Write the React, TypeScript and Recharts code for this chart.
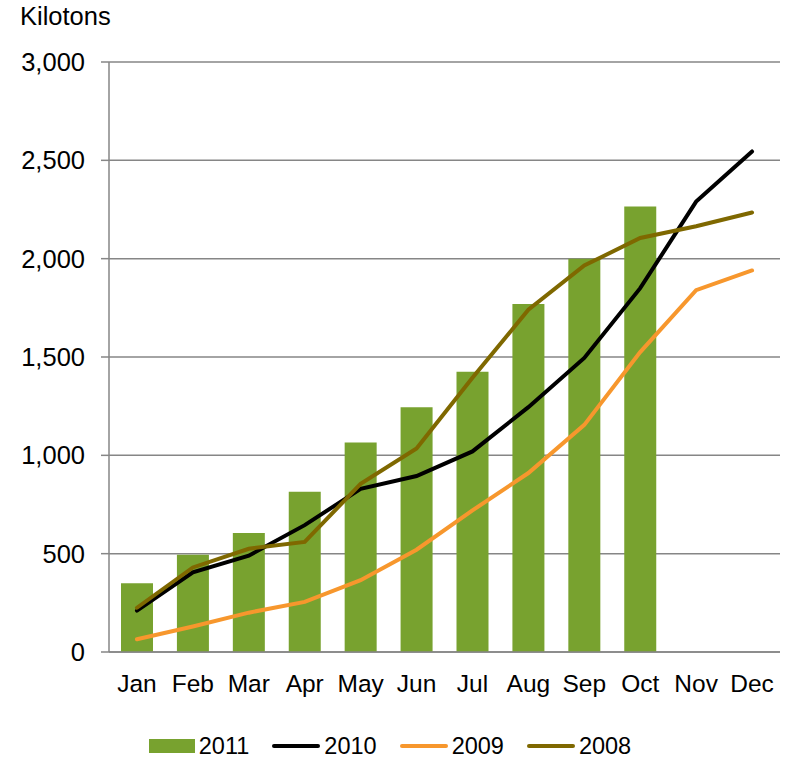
import React from 'react';
import { ComposedChart, Bar, Line, XAxis, YAxis, CartesianGrid, Legend } from 'recharts';

const months = ['Jan', 'Feb', 'Mar', 'Apr', 'May', 'Jun', 'Jul', 'Aug', 'Sep', 'Oct', 'Nov', 'Dec'];
const y2011 = [350, 495, 605, 815, 1065, 1245, 1425, 1770, 2000, 2265, null, null];
const y2010 = [210, 405, 490, 645, 830, 895, 1020, 1245, 1495, 1850, 2290, 2545];
const y2009 = [65, 130, 200, 255, 365, 520, 720, 910, 1155, 1525, 1840, 1940];
const y2008 = [225, 430, 525, 560, 855, 1035, 1395, 1740, 1965, 2105, 2165, 2235];
const yTicks = [0, 500, 1000, 1500, 2000, 2500, 3000];

const data = months.map((m, i) => ({
    name: m,
    '2011': y2011[i],
    '2010': y2010[i],
    '2009': y2009[i],
    '2008': y2008[i],
}));

const FONT = '"Liberation Sans", Arial, sans-serif';
const GRID = '#868686';
const GREEN = '#78A22F';
const BLACK = '#000000';
const ORANGE = '#F7972D';
const OLIVE = '#7F6800';

const legendItems = [
    { label: '2011', color: GREEN, kind: 'bar' },
    { label: '2010', color: BLACK, kind: 'line' },
    { label: '2009', color: ORANGE, kind: 'line' },
    { label: '2008', color: OLIVE, kind: 'line' },
];

const LegendContent = () => (
    <div style={{ display: 'flex', justifyContent: 'center', alignItems: 'center', height: 24, fontFamily: FONT, fontSize: 23.5, color: '#000' }}>
        {legendItems.map((it, i) => (
            <div key={it.label} style={{ display: 'flex', alignItems: 'center', marginLeft: i === 0 ? 0 : 23 }}>
                {it.kind === 'bar'
                    ? <span style={{ display: 'inline-block', width: 46, height: 14, background: it.color }} />
                    : <span style={{ display: 'inline-block', width: 48, height: 4, borderRadius: 2, background: it.color }} />}
                <span style={{ marginLeft: 4 }}>{it.label}</span>
            </div>
        ))}
    </div>
);

const TitleLabel = () => (
    <text x={20} y={25} fontFamily={FONT} fontSize={25.5} fill="#000">Kilotons</text>
);

export default function App() {
    return (
        <div style={{ position: 'absolute', left: 0, top: 0, width: 790, height: 758, background: '#fff' }}>
            <ComposedChart width={790} height={758} data={data} margin={{ top: 62, right: 10, left: 0, bottom: 0 }}>
                <CartesianGrid horizontal vertical={false} stroke={GRID} strokeWidth={1.5} />
                <XAxis
                    dataKey="name"
                    height={82}
                    axisLine={{ stroke: GRID, strokeWidth: 1.5 }}
                    tickLine={false}
                    tickSize={0}
                    tickMargin={23}
                    tick={{ fill: '#000', fontSize: 24.5, fontFamily: FONT }}
                    interval={0}
                />
                <YAxis
                    width={109}
                    domain={[0, 3000]}
                    ticks={yTicks}
                    interval={0}
                    axisLine={{ stroke: GRID, strokeWidth: 1.5 }}
                    tickLine={{ stroke: GRID, strokeWidth: 1.5 }}
                    tickSize={8}
                    tickMargin={16}
                    tick={{ fill: '#000', fontSize: 25.5, fontFamily: FONT }}
                    tickFormatter={(v: number) => v.toLocaleString('en-US')}
                    label={<TitleLabel />}
                />
                <Legend verticalAlign="bottom" content={<LegendContent />} />
                <Bar dataKey="2011" fill={GREEN} barSize={32} isAnimationActive={false} />
                <Line dataKey="2010" stroke={BLACK} strokeWidth={4} dot={false} strokeLinecap="round" isAnimationActive={false} />
                <Line dataKey="2009" stroke={ORANGE} strokeWidth={4} dot={false} strokeLinecap="round" isAnimationActive={false} />
                <Line dataKey="2008" stroke={OLIVE} strokeWidth={4} dot={false} strokeLinecap="round" isAnimationActive={false} />
            </ComposedChart>
        </div>
    );
}
